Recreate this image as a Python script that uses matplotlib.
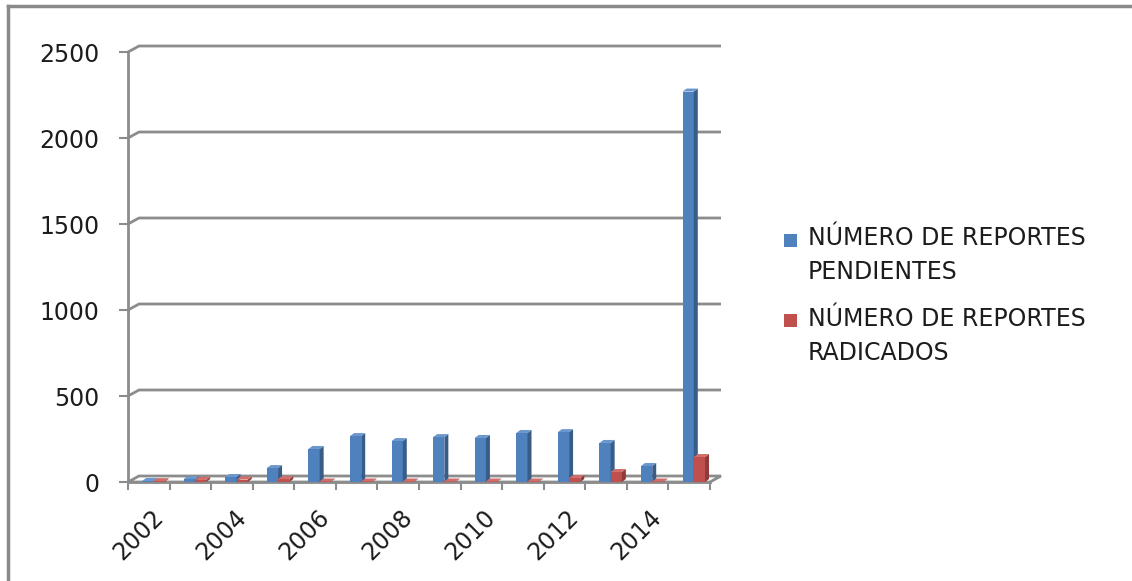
import matplotlib
matplotlib.use("Agg")
import matplotlib.pyplot as plt
from matplotlib.patches import Polygon, Rectangle
from matplotlib.lines import Line2D
import numpy as np

years = list(range(2002, 2016))
pendientes = [6, 17, 29, 81, 192, 267, 238, 261, 256, 285, 290, 227, 93, 2270]
radicados = [5, 12, 14, 17, 3, 3, 3, 3, 3, 3, 23, 58, 3, 145]
year_labels = [str(y) if y % 2 == 0 else "" for y in years]
y_ticks = [0, 500, 1000, 1500, 2000, 2500]
series_names = ["NÚMERO DE REPORTES\nPENDIENTES", "NÚMERO DE REPORTES\nRADICADOS"]

BLUE, BLUE_SIDE, BLUE_TOP = "#4F81BD", "#385D8A", "#6C97CD"
RED, RED_SIDE, RED_TOP = "#C0504D", "#8E3B39", "#D06E6B"
GRID = "#8C8C8C"
TXT = "#1c1c1c"
FS = 17

W, H, DPI = 1132, 581, 100
fig = plt.figure(figsize=(W / DPI, H / DPI), dpi=DPI)
ax = fig.add_axes([128 / W, 1 - 482 / H, 582 / W, 430 / H])
ax.set_xlim(-0.5, 13.5)
ax.set_ylim(0, 2500)


def px(dx, dy):
    # pixel offset -> data offset
    inv = ax.transData.inverted()
    x0, y0 = inv.transform((0, 0))
    x1, y1 = inv.transform((dx, dy))
    return x1 - x0, y1 - y0


wx, wy = px(11, 6)   # back wall depth
bx, by = px(4, 3)    # bar depth

# floor and back wall gridlines
floor = Polygon([(-0.5, 0), (13.5, 0), (13.5 + wx, wy), (-0.5 + wx, wy)],
                closed=True, facecolor="white", edgecolor=GRID, lw=2, zorder=1, clip_on=False)
ax.add_patch(floor)
for v in y_ticks[1:]:
    ax.plot([-0.5, -0.5 + wx, 13.5 + wx], [v, v + wy, v + wy], color=GRID, lw=2,
            zorder=1, clip_on=False, solid_capstyle="butt")

x = np.arange(len(years))
bw = 0.27
series = [
    (x - 0.16, pendientes, BLUE, BLUE_SIDE, BLUE_TOP, 3),
    (x + 0.11, radicados, RED, RED_SIDE, RED_TOP, 4),
]
for xs, vals, front, side_c, top_c, z in series:
    ax.bar(xs, vals, width=bw, align="edge", color=front, zorder=z, clip_on=False)
    for x0, v in zip(xs, vals):
        x1 = x0 + bw
        ax.add_patch(Polygon([(x1, 0), (x1, v), (x1 + bx, v + by), (x1 + bx, by)],
                             closed=True, facecolor=side_c, edgecolor="none",
                             zorder=z, clip_on=False))
        ax.add_patch(Polygon([(x0, v), (x1, v), (x1 + bx, v + by), (x0 + bx, v + by)],
                             closed=True, facecolor=top_c, edgecolor="none",
                             zorder=z, clip_on=False))

# axes styling
for s in ["top", "right"]:
    ax.spines[s].set_visible(False)
for s in ["left", "bottom"]:
    ax.spines[s].set_color(GRID)
    ax.spines[s].set_linewidth(2)
ax.spines["bottom"].set_zorder(2)

ax.set_yticks(y_ticks)
ax.set_yticklabels([str(v) for v in y_ticks])
ax.tick_params(axis="y", length=6.5, width=1.5, color=GRID, pad=14,
               labelsize=FS, labelcolor=TXT)

ax.set_xticks(x)
ax.set_xticklabels([])
ax.set_xticks(np.arange(-0.5, 14.0, 1.0), minor=True)
ax.tick_params(axis="x", which="major", length=0)
ax.tick_params(axis="x", which="minor", length=6, width=1.5, color=GRID)

for xi, lab in zip(x, year_labels):
    if lab:
        ax.annotate(lab, xy=(xi, 0), xytext=(2, -23), textcoords="offset pixels",
                    rotation=45, ha="right", va="top", rotation_mode="anchor",
                    fontsize=FS, color=TXT, annotation_clip=False)

# legend
for name, col, y_sq, y_txt in zip(series_names, [BLUE, RED], [234, 314], [255, 336]):
    fig.add_artist(Rectangle((784 / W, 1 - (y_sq + 13) / H), 13 / W, 13 / H,
                             transform=fig.transFigure, facecolor=col, edgecolor="none"))
    fig.text(808 / W, 1 - y_txt / H, name, va="center", ha="left",
             fontsize=FS, color=TXT, linespacing=1.5)

# chart frame
fig.add_artist(Line2D([8 / W, 8 / W], [0, 1 - 6 / H], transform=fig.transFigure,
                      color="#8a8a8a", lw=2.5))
fig.add_artist(Line2D([8 / W, 1], [1 - 6 / H, 1 - 6 / H], transform=fig.transFigure,
                      color="#8a8a8a", lw=2.5))

fig.savefig("out.png", dpi=DPI)
